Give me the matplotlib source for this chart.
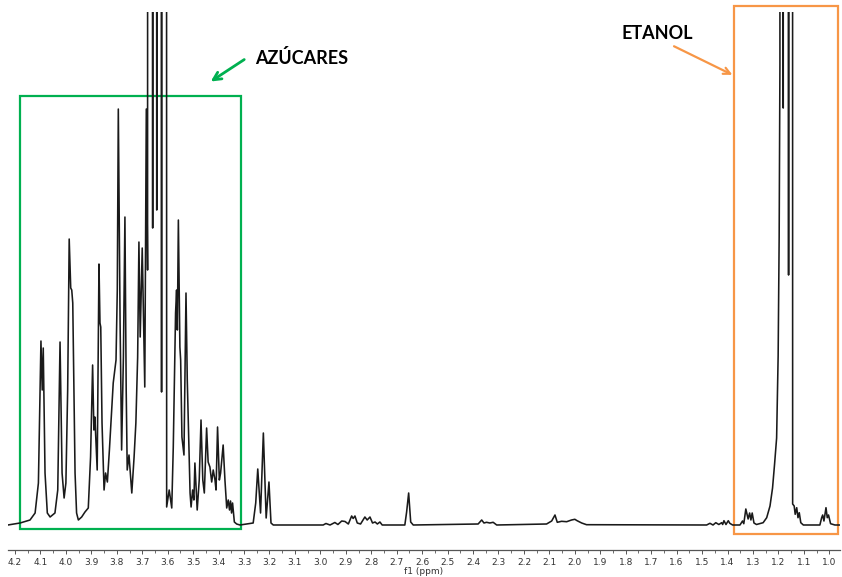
import numpy as np
import matplotlib
matplotlib.use("Agg")
import matplotlib.pyplot as plt
from matplotlib.patches import Rectangle
from matplotlib.ticker import MultipleLocator, FormatStrFormatter

# 1H NMR trace: chemical shift (ppm) and intensity (a.u.)
ppm = [
    4.228, 4.180, 4.141, 4.121, 4.108, 4.098, 4.093, 4.089, 4.082, 4.073,
    4.062, 4.043, 4.032, 4.023, 4.015, 4.007, 4.000, 3.993, 3.987, 3.981,
    3.977, 3.973, 3.964, 3.958, 3.951, 3.938, 3.925, 3.912, 3.903, 3.895,
    3.890, 3.886, 3.877, 3.873, 3.870, 3.866, 3.863, 3.858, 3.850, 3.844,
    3.837, 3.829, 3.820, 3.814, 3.803, 3.798, 3.794, 3.787, 3.781, 3.774,
    3.768, 3.763, 3.759, 3.752, 3.741, 3.732, 3.725, 3.718, 3.713, 3.708,
    3.700, 3.690, 3.684, 3.679, 3.670, 3.659, 3.651, 3.643, 3.633, 3.624,
    3.617, 3.604, 3.594, 3.584, 3.578, 3.569, 3.565, 3.562, 3.558, 3.552,
    3.549, 3.544, 3.536, 3.528, 3.523, 3.512, 3.508, 3.502, 3.497, 3.493,
    3.484, 3.476, 3.469, 3.462, 3.456, 3.447, 3.441, 3.434, 3.427, 3.421,
    3.414, 3.410, 3.404, 3.397, 3.392, 3.382, 3.375, 3.368, 3.362, 3.357,
    3.353, 3.349, 3.345, 3.338, 3.329, 3.316,
    3.264, 3.254, 3.246, 3.235, 3.224, 3.213, 3.202, 3.194, 3.185,
    2.989, 2.978, 2.962, 2.943, 2.931, 2.916, 2.903, 2.890, 2.877, 2.871,
    2.864, 2.855, 2.842, 2.825, 2.816, 2.805, 2.795, 2.785, 2.776, 2.766,
    2.757, 2.668, 2.661, 2.653, 2.645, 2.635,
    2.380, 2.366, 2.357, 2.347, 2.334, 2.321, 2.307,
    2.111, 2.091, 2.078, 2.069, 2.052, 2.032, 2.013, 2.000, 1.991, 1.973,
    1.954,
    1.482, 1.469, 1.457, 1.446, 1.434, 1.423, 1.419, 1.414, 1.406, 1.397,
    1.391, 1.380, 1.351, 1.341, 1.336, 1.328, 1.319, 1.313, 1.308, 1.303,
    1.296, 1.286, 1.260, 1.246, 1.233, 1.223, 1.215, 1.207, 1.201, 1.197,
    1.194, 1.191, 1.181, 1.171, 1.160, 1.153, 1.144, 1.138, 1.134, 1.128,
    1.123, 1.118, 1.112, 1.102, 1.037, 1.030, 1.026, 1.021, 1.013, 1.008,
    1.003, 0.995, 0.978, 0.958,
]
intensity = [
    0, 2, 5, 12, 42, 184, 135, 177, 52, 12,
    8, 12, 35, 183, 52, 27, 42, 135, 286, 237,
    235, 222, 52, 12, 5, 8, 13, 17, 68, 160,
    95, 108, 55, 168, 261, 202, 198, 102, 35, 52,
    43, 75, 115, 142, 165, 235, 416, 202, 75, 168,
    308, 135, 55, 70, 32, 68, 102, 168, 283, 188,
    277, 138, 416, 255, 20000, 297, 20000, 315, 20000, 133,
    20000, 18, 35, 17, 78, 212, 235, 195, 305, 178,
    165, 88, 70, 232, 145, 32, 18, 35, 25, 62,
    15, 45, 105, 45, 32, 97, 63, 58, 43, 55,
    45, 35, 98, 45, 52, 80, 45, 17, 25, 15,
    24, 12, 22, 3, 1, 0,
    2, 22, 56, 12, 92, 7, 43, 2, 0,
    0, 1.5, 0, 2.5, 0.5, 4, 3.5, 1, 9, 6.5,
    9, 2, 1, 8, 5, 8, 2, 3, 1, 3,
    0, 0, 13, 32, 3, 0,
    1, 5, 2, 2.7, 2, 2.7, 0,
    1, 4, 10, 2.7, 3.7, 3.3, 5, 5.7, 4.3, 2,
    0.3,
    0, 1.7, 0, 2.3, 0.5, 2.3, 0.5, 4.3, 0.5, 4.3,
    1.7, 0, 0, 4, 1.3, 16, 6, 12, 5, 12,
    2, 0.5, 2.3, 7.3, 19, 37, 61, 87, 169, 288,
    460, 20000, 417, 40000, 250, 20000, 21, 19, 10.7, 17.3,
    7.3, 12.3, 2.3, 0, 0, 7.3, 10, 4, 17.3, 7.3,
    10, 1.3, 0, 0,
]

# highlighted regions (ppm from, ppm to, intensity bottom, intensity top)
sugar_box = (4.180, 3.312, -4, 429)
ethanol_box = (1.375, 0.966, -9, 519)
sugar_label = "AZÚCARES"
ethanol_label = "ETANOL"

green = "#00B050"
orange = "#F79646"

fig = plt.figure(figsize=(8.42, 5.77), dpi=100)
ax = fig.add_axes([0.0095, 0.0468, 0.9881, 0.9332])

ax.plot(ppm, intensity, color="#1a1a1a", lw=1.15)
ax.set_xlim(4.2275, 0.958)
ax.set_ylim(-25, 513.5)

for side in ("left", "right", "top"):
    ax.spines[side].set_visible(False)
ax.spines["bottom"].set_color("#555555")
ax.spines["bottom"].set_linewidth(0.9)
ax.set_yticks([])

ax.xaxis.set_major_locator(MultipleLocator(0.1))
ax.xaxis.set_minor_locator(MultipleLocator(0.05))
ax.xaxis.set_major_formatter(FormatStrFormatter("%.1f"))
ax.tick_params(axis="x", which="major", length=3, width=0.7, color="#555555",
               labelsize=6.5, labelcolor="#333333", pad=2.5)
ax.tick_params(axis="x", which="minor", length=2, width=0.6, color="#555555")
ax.set_xlabel("f1 (ppm)", fontsize=6.5, color="#333333", labelpad=0)

# boxes around the two groups of signals
x0, x1, y0, y1 = sugar_box
ax.add_patch(Rectangle((x0, y0), x1 - x0, y1 - y0, fill=False,
                       edgecolor=green, lw=1.6, clip_on=False))
x0, x1, y0, y1 = ethanol_box
ax.add_patch(Rectangle((x0, y0), x1 - x0, y1 - y0, fill=False,
                       edgecolor=orange, lw=1.6, clip_on=False))

ax.annotate("", xy=(3.440, 442), xytext=(3.290, 467),
            arrowprops=dict(arrowstyle="->", color=green, lw=2,
                            mutation_scale=14),
            annotation_clip=False)
ax.text(3.257, 467, sugar_label, fontsize=13, fontweight="bold",
        family=["Lato", "DejaVu Sans"], ha="left", va="center")

ax.annotate("", xy=(1.371, 449), xytext=(1.620, 480),
            arrowprops=dict(arrowstyle="->", color=orange, lw=1.6,
                            mutation_scale=12),
            annotation_clip=False)
ax.text(1.815, 492, ethanol_label, fontsize=13, fontweight="bold",
        family=["Lato", "DejaVu Sans"], ha="left", va="center")

fig.savefig("out.png", dpi=100)
